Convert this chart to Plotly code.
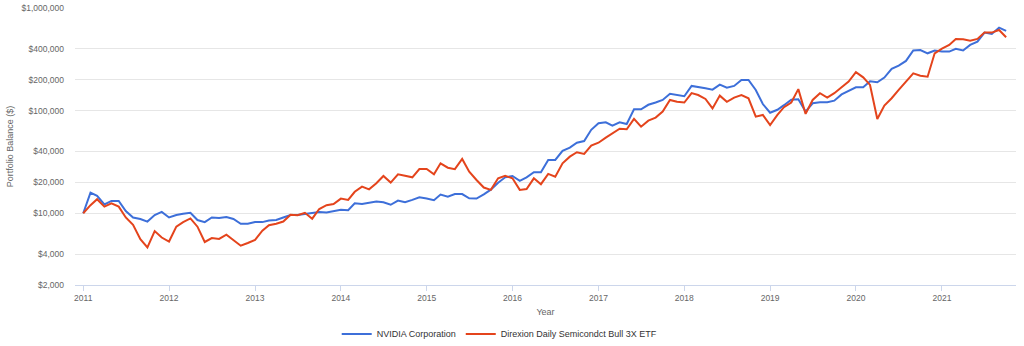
import pandas as pd
import plotly.graph_objects as go

dates = pd.date_range("2011-01-01", periods=130, freq="MS")

nvda = [10000, 15900, 14800, 12200, 13200, 13200, 10500, 9100, 8800, 8300, 9600, 10300,
        9100, 9600, 9900, 10100, 8600, 8200, 9100, 9000, 9200, 8800, 7900, 7900,
        8200, 8200, 8500, 8600, 9100, 9600, 9600, 9800, 10000, 10300, 10200, 10500,
        10800, 10700, 12500, 12300, 12600, 13000, 12800, 12100, 13300, 12800, 13500, 14300,
        13900, 13400, 15200, 14500, 15400, 15400, 14000, 13900, 15300, 17000, 19800, 22400,
        23100, 20700, 22400, 25100, 25100, 33100, 33100, 40500, 43600, 48700, 50600, 65000,
        75300, 77000, 71500, 77000, 74100, 103000, 103000, 114000, 120000, 127000, 146000, 143000,
        138000, 174000, 171000, 165000, 160000, 179000, 167000, 174000, 199000, 199000, 159000, 116000,
        95500, 102000, 113000, 128000, 129000, 97800, 118000, 121000, 121000, 125000, 144000, 157000,
        169000, 169000, 193000, 189000, 210000, 255000, 275000, 305000, 385000, 390000, 362000, 385000,
        376000, 376000, 400000, 385000, 437000, 470000, 576000, 558000, 644000, 598000]

soxl = [10000, 12000, 13700, 11600, 12500, 11600, 9100, 7700, 5600, 4650, 6700, 5800,
        5300, 7400, 8200, 8900, 7400, 5250, 5740, 5620, 6180, 5490, 4830, 5130,
        5490, 6760, 7640, 7900, 8300, 9680, 9550, 10100, 8850, 11000, 12000, 12300,
        13900, 13500, 16200, 18200, 17100, 19600, 23100, 19900, 24000, 23200, 22400, 27000,
        27000, 24000, 30700, 27800, 26900, 33800, 25400, 21100, 17800, 16900, 21900, 23200,
        21900, 16900, 17200, 21900, 19200, 24200, 22700, 30700, 35600, 39300, 37800, 45600,
        48700, 54600, 60200, 66700, 65800, 83000, 69800, 79800, 85500, 97800, 127000, 122000,
        120000, 148000, 142000, 130000, 105000, 140000, 122000, 134000, 142000, 132000, 87400, 90800,
        72500, 90800, 108000, 120000, 162000, 92900, 127000, 148000, 134000, 148000, 169000, 192000,
        237000, 211000, 178000, 83000, 112000, 132000, 159000, 192000, 231000, 219000, 214000, 362000,
        402000, 437000, 500000, 495000, 481000, 500000, 576000, 576000, 611000, 519000]

series_names = ["NVIDIA Corporation", "Direxion Daily Semicondct Bull 3X ETF"]
series_colors = ["#3d6fd9", "#e4441c"]

y_tickvals = [2000, 4000, 10000, 20000, 40000, 100000, 200000, 400000, 1000000]
y_ticktext = ["$2,000", "$4,000", "$10,000", "$20,000", "$40,000", "$100,000",
              "$200,000", "$400,000", "$1,000,000"]
x_tickvals = pd.date_range("2011-01-01", periods=11, freq="YS")

FONT = "Liberation Sans, Arial, sans-serif"

fig = go.Figure()
for name, vals, col in zip(series_names, [nvda, soxl], series_colors):
    fig.add_trace(go.Scatter(x=dates, y=vals, mode="lines", name=name,
                             line=dict(color=col, width=2)))

fig.update_layout(
    width=1024, height=346,
    margin=dict(l=75, r=8, t=8, b=61, autoexpand=False),
    paper_bgcolor="white", plot_bgcolor="white",
    font=dict(family=FONT, color="#666666", size=9),
    showlegend=True,
    legend=dict(orientation="h", xref="container", yref="container",
                x=0.488, xanchor="center", y=0.035, yanchor="middle",
                font=dict(size=9, color="#333333"), itemwidth=30,
                bgcolor="rgba(0,0,0,0)"),
)
fig.update_xaxes(
    range=["2010-11-27", "2021-11-12"],
    tickvals=x_tickvals, tickformat="%Y",
    ticks="outside", ticklen=5, tickcolor="#ccd6eb",
    showline=True, linecolor="#ccd6eb", linewidth=1,
    showgrid=False, zeroline=False, automargin=False,
    tickfont=dict(size=8.5, color="#666666"),
    title=dict(text="Year", font=dict(size=9, color="#666666"), standoff=6),
)
fig.update_yaxes(
    type="log", range=[3.30103, 6.0],
    tickvals=y_tickvals, ticktext=y_ticktext,
    showgrid=True, gridcolor="#e6e6e6", gridwidth=1,
    showline=False, zeroline=False, ticks="", automargin=False,
    ticklabelstandoff=10,
    tickfont=dict(size=8.5, color="#666666"),
    title=dict(text="Portfolio Balance ($)", font=dict(size=9, color="#666666"), standoff=6),
)

fig.write_html("out.html")
